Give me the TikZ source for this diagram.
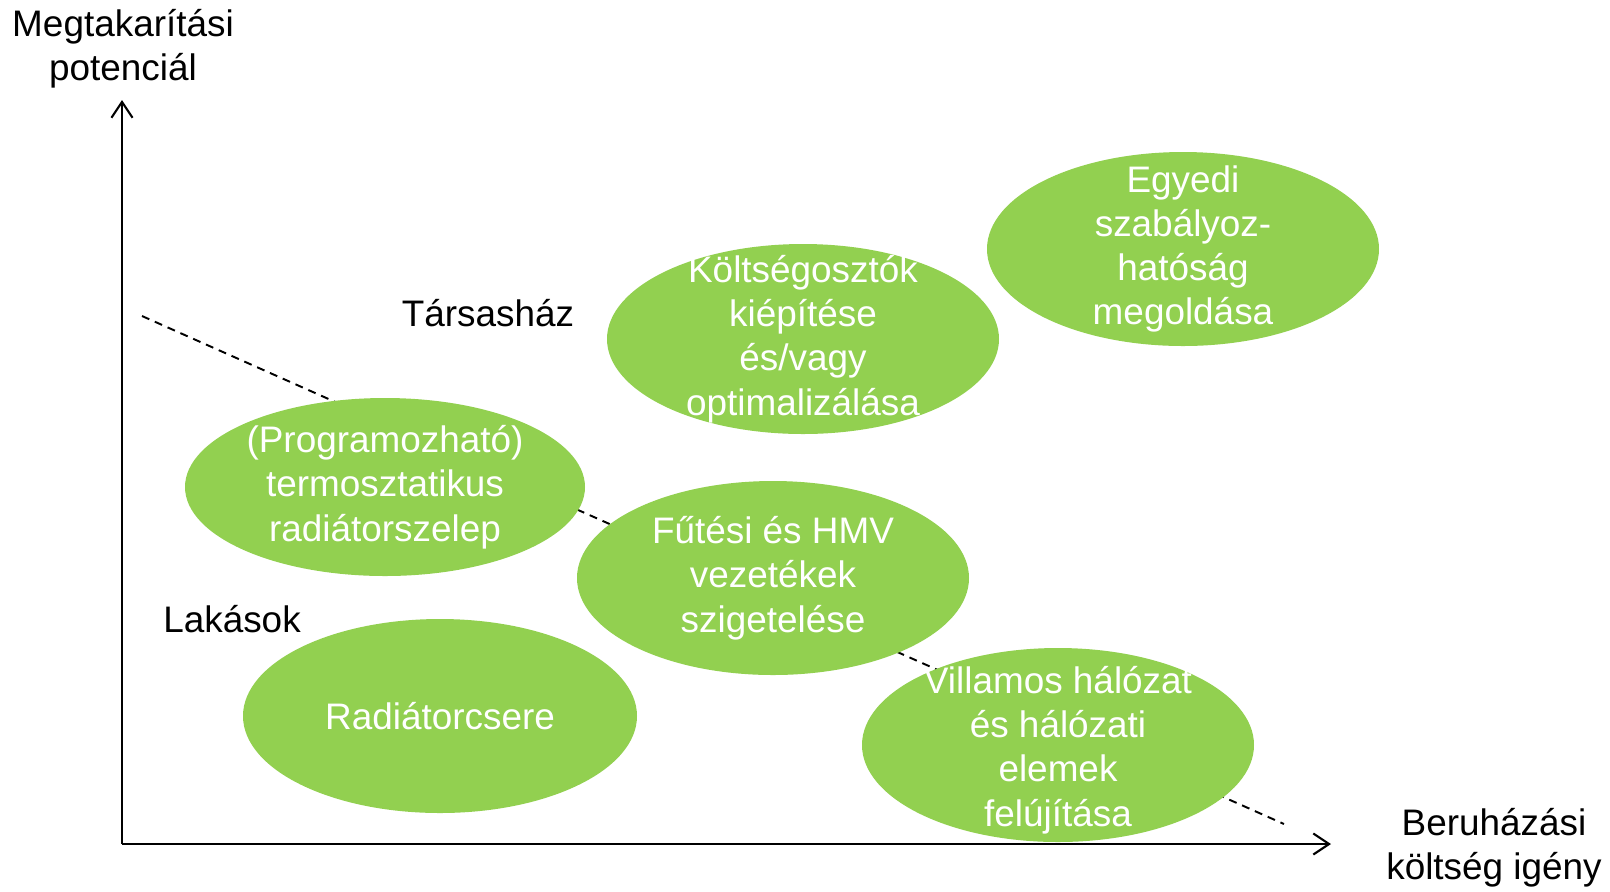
\documentclass[tikz,border=0pt]{standalone}
\usepackage{fontspec}
\setmainfont{Liberation Sans}
\usetikzlibrary{arrows.meta,shapes.geometric,positioning}
\definecolor{leafgreen}{HTML}{92D050}

\begin{document}
\begin{tikzpicture}[
    font=\fontsize{10.5}{12.6}\selectfont,
    >={Straight Barb[length=4.5pt,width=6pt]},
	axis/.style={
		draw=black,
		line width=0.6pt,
		->
	},
	trend/.style={
		draw=black,
		line width=0.55pt,
		dash pattern=on 0.08cm off 0.06cm
	},
	blob/.style={
		ellipse,
		fill=leafgreen,
		draw=none,
		inner sep=0pt,
		minimum width=3.92cm,
		minimum height=1.94cm
	},
	blobtext/.style={
		text=white,
		align=center,
		inner sep=0pt
	},
	axislabel/.style={
		align=center,
		inner sep=0pt
	},
	grouplabel/.style={
		inner sep=0pt
	}
  ]

% // frame
\useasboundingbox (0,0) rectangle (16.10,-8.91);

% // axes
\coordinate (origin) at (1.22,-8.44);
\coordinate (ytop) at (1.22,-1.00);
\coordinate (xend) at (13.31,-8.44);
\draw [axis] (origin) -- (ytop);
\draw [axis] (origin) -- (xend);

\node [axislabel] (ylabel) at (1.23,-0.485) {Megtakarítási\\potenciál};
\node [axislabel] (xlabel) at (14.94,-8.48) {Beruházási\\költség igény};

% // the dividing line
\coordinate (trendstart) at (1.42,-3.16);
\coordinate (trendend) at (12.84,-8.24);
\draw [trend] (trendstart) -- (trendend);

\node [grouplabel] (tarsashaz) at (4.88,-3.13) {Társasház};
\node [grouplabel] (lakasok) at (2.32,-6.19) {Lakások};

% // measures
\node [blob] (egyedi) at (11.83,-2.49) {};
\node [blob, minimum height=1.90cm] (koltseg) at (8.03,-3.39) {};
\node [blob, minimum width=4.00cm, minimum height=1.78cm] (termo) at (3.85,-4.87) {};
\node [blob] (futes) at (7.73,-5.78) {};
\node [blob, minimum width=3.94cm] (radiator) at (4.40,-7.16) {};
\node [blob] (villamos) at (10.58,-7.45) {};

\node [blobtext] (egyedi-txt) at (egyedi) {Egyedi\\szabályoz-\\hatóság\\megoldása};
\node [blobtext] (koltseg-txt) at (koltseg) {Költségosztók\\kiépítése\\és/vagy\\optimalizálása};
\node [blobtext] (termo-txt) at (termo) {(Programozható)\\termosztatikus\\radiátorszelep};
\node [blobtext] (futes-txt) at (futes) {Fűtési és HMV\\vezetékek\\szigetelése};
\node [blobtext] (radiator-txt) at (radiator) {Radiátorcsere};
\node [blobtext, yshift=-0.05cm] (villamos-txt) at (villamos) {Villamos hálózat\\és hálózati\\elemek\\felújítása};

\end{tikzpicture}
\end{document}
